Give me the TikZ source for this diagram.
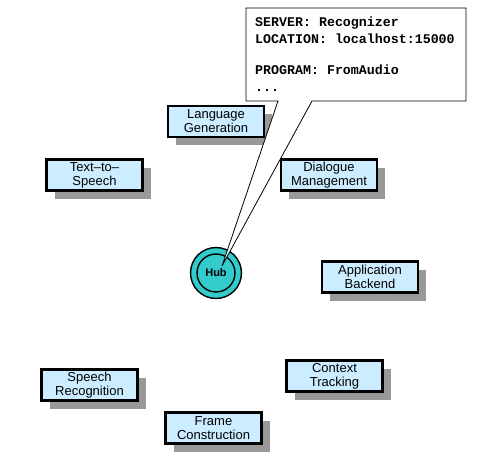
\documentclass[tikz,border=0pt]{standalone}
\usepackage{fontspec}
\setmainfont{Liberation Sans}
\setmonofont{Liberation Mono}
\usetikzlibrary{shadows}
\definecolor{boxblue}{RGB}{204,236,255}
\definecolor{hubteal}{RGB}{51,204,204}
\tikzset{
    server/.style={draw,line width=2.4pt,fill=boxblue,minimum width=96pt,minimum height=31pt,
        align=center,font=\fontsize{13}{14}\selectfont,inner sep=1pt,
        drop shadow={shadow xshift=8pt,shadow yshift=-8pt,fill=black!40,opacity=1}},
    infotext/.style={align=left,inner sep=0pt,font=\fontsize{13.3}{17}\selectfont\ttfamily\bfseries}
}
\begin{document}
\begin{tikzpicture}[x=1pt,y=1pt]
        \useasboundingbox (0,0) rectangle (479,-455);
        \node[server] (langgen) at (216,-121.5) {Language\\Generation};
        \node[server] (tts) at (94.5,-175) {Text--to--\\Speech};
        \node[server] (dialogue) at (329,-175) {Dialogue\\Management};
        \node[server] (backend) at (370,-277) {Application\\Backend};
        \node[server] (context) at (334.5,-376) {Context\\Tracking};
        \node[server] (recog) at (89.5,-385) {Speech\\Recognition};
        \node[server] (frame) at (213.5,-428) {Frame\\Construction};
        \node[circle,draw,line width=1.4pt,fill=hubteal,minimum size=51pt] (hub) at (216,-273) {};
        \node[circle,draw,line width=1.4pt,fill=hubteal,minimum size=38pt,font=\fontsize{11}{11}\selectfont\bfseries,inner sep=0pt] (hubin) at (hub) {Hub};
        % callout with the server info
        \coordinate (tip) at (222,-266);
        \draw[fill=white,line width=0.8pt] (246,-8) -- (466,-8) -- (466,-101) -- (312,-101) -- (tip) -- (278,-101) -- (246,-101) -- cycle;
        \node[infotext,anchor=north west] (info) at (255,-17) {SERVER: Recognizer\\LOCATION: localhost:15000\\[14pt]PROGRAM: FromAudio\\...};
    \end{tikzpicture}
\end{document}
